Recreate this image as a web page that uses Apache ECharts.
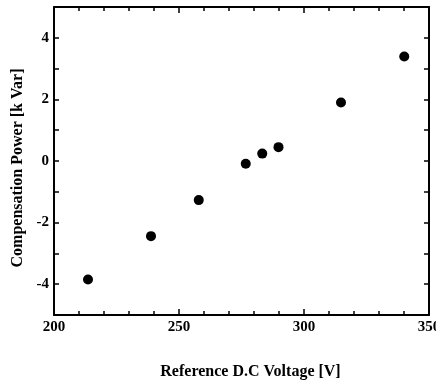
<!DOCTYPE html>
<html>
<head>
<meta charset="utf-8">
<script src="https://cdn.jsdelivr.net/npm/echarts@6/dist/echarts.min.js"></script>
<style>
html,body{margin:0;padding:0;background:#fff;}
#c{width:436px;height:383px;}
</style>
</head>
<body>
<div id="c"></div>
<script>
const voltage = [213.6, 238.8, 257.9, 276.7, 283.3, 289.8, 314.8, 340.1];
const power = [-3.85, -2.44, -1.27, -0.09, 0.24, 0.45, 1.90, 3.39];
const xTitle = 'Reference D.C Voltage [V]';
const yTitle = 'Compensation Power [k Var]';

const font = '"Liberation Serif", "Times New Roman", serif';
const lineStyle = {color: '#000', width: 2};
const tickStyle = {color: '#000', width: 1.5};

const chart = echarts.init(document.getElementById('c'), null, {renderer: 'canvas'});

function xAx(pos, showLabel) {
  return {
    type: 'value', position: pos, min: 200, max: 350, interval: 50,
    axisLine: {show: true, onZero: false, lineStyle: lineStyle},
    axisTick: {show: true, inside: true, length: 6, lineStyle: tickStyle},
    minorTick: {show: true, splitNumber: 5, length: 4, lineStyle: tickStyle},
    splitLine: {show: false},
    axisLabel: {show: showLabel, color: '#000', fontFamily: font, fontWeight: 'bold', fontSize: 15, margin: 5},
    name: showLabel ? xTitle : '',
    nameLocation: 'middle', nameGap: 49,
    nameTextStyle: {color: '#000', fontFamily: font, fontWeight: 'bold', fontSize: 16, padding: [0, 0, 0, 18]}
  };
}
function yAx(pos, showLabel) {
  return {
    type: 'value', position: pos, min: -5, max: 5, interval: 1,
    axisLine: {show: true, onZero: false, lineStyle: lineStyle},
    axisTick: {show: true, inside: true, length: 5, lineStyle: tickStyle},
    splitLine: {show: false},
    axisLabel: {show: showLabel, color: '#000', fontFamily: font, fontWeight: 'bold', fontSize: 15, margin: 5,
      formatter: v => (Math.abs(v) % 2 === 0 && Math.abs(v) < 5) ? String(v) : ''},
    name: showLabel ? yTitle : '',
    nameLocation: 'middle', nameGap: 28,
    nameTextStyle: {color: '#000', fontFamily: font, fontWeight: 'bold', fontSize: 16, padding: [0, 14, 0, 0]}
  };
}

chart.setOption({
  animation: false,
  backgroundColor: '#fff',
  grid: {left: 54, right: 7, top: 7, bottom: 68, outerBoundsMode: 'none', containLabel: false},
  xAxis: [xAx('bottom', true), xAx('top', false)],
  yAxis: [yAx('left', true), yAx('right', false)],
  series: [{
    type: 'scatter',
    xAxisIndex: 0, yAxisIndex: 0,
    data: voltage.map((v, i) => [v, power[i]]),
    symbol: 'circle', symbolSize: 10,
    itemStyle: {color: '#000', opacity: 1}
  }]
});
</script>
</body>
</html>
